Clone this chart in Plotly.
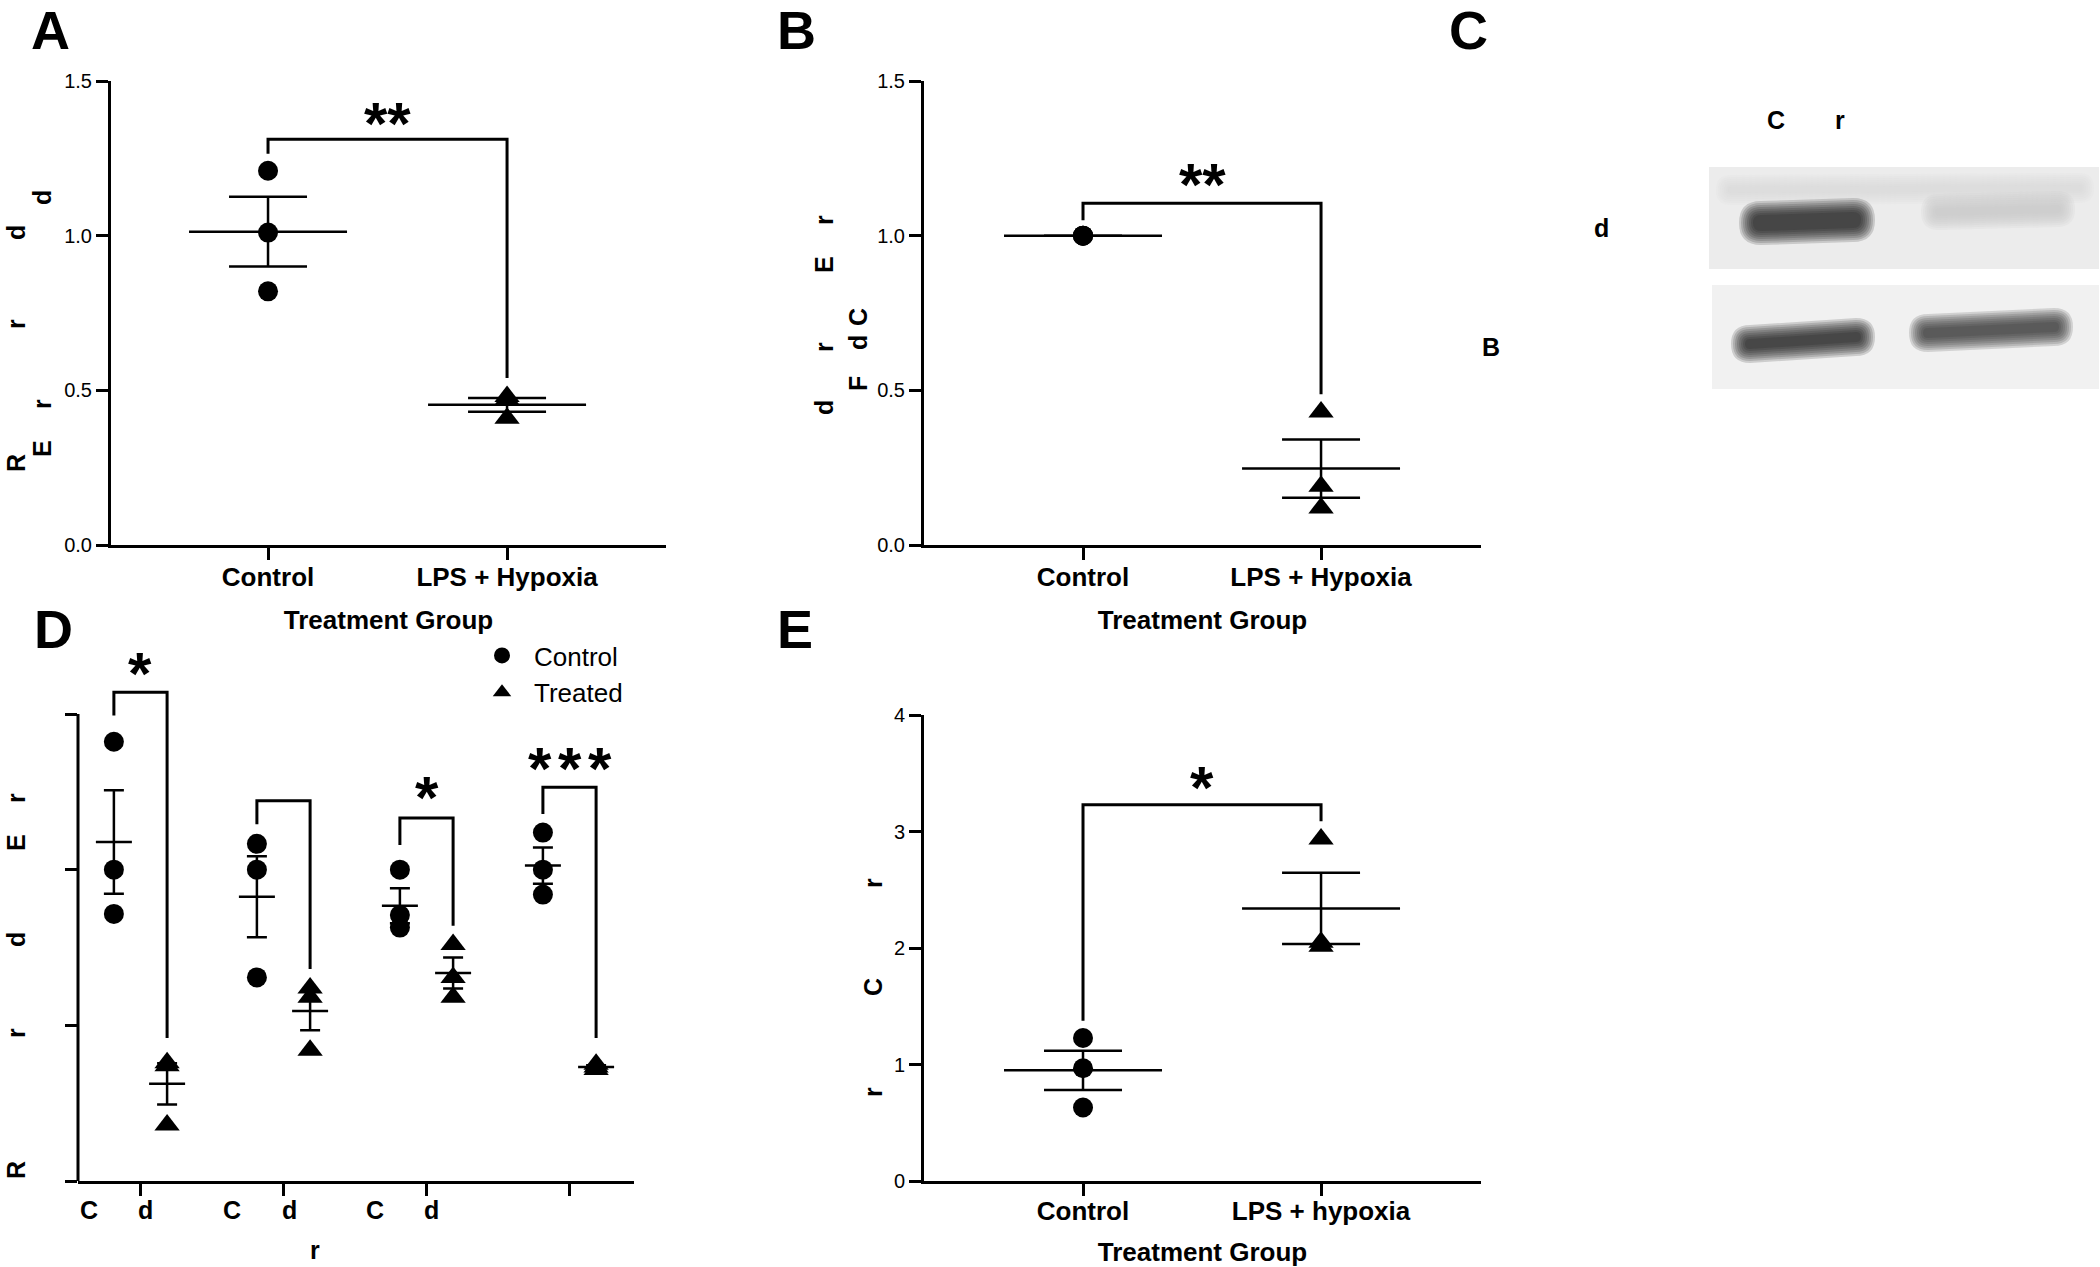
import plotly.graph_objects as go

W, H = 2100, 1267
FONT = "Liberation Sans, Arial, sans-serif"

# ---------------- data ----------------
# Panel A
a_categories = ["Control", "LPS + Hypoxia"]
a_control = [1.21, 1.01, 0.82]
a_treated = [0.48, 0.47, 0.41]
a_mean = [1.013, 0.453]
a_sem = [0.113, 0.022]
a_bracket_y = [1.265, 1.312, 1.312, 0.54]
a_star = "**"
a_star_y = 1.388
a_yticks = [0, 0.5, 1.0, 1.5]
a_yticktext = ["0.0", "0.5", "1.0", "1.5"]

# Panel B
b_categories = ["Control", "LPS + Hypoxia"]
b_control = [1.0, 1.0, 1.0]
b_treated = [0.43, 0.19, 0.12]
b_mean = [1.0, 0.247]
b_sem = [0.0, 0.094]
b_bracket_y = [1.05, 1.105, 1.105, 0.487]
b_star = "**"
b_star_y = 1.19
b_yticks = [0, 0.5, 1.0, 1.5]
b_yticktext = ["0.0", "0.5", "1.0", "1.5"]

# Panel D
d_groups = [0, 1, 2, 3]
d_control = [[1.411, 1.0, 0.858], [1.083, 1.0, 0.654], [1.0, 0.854, 0.814], [1.119, 1.0, 0.92]]
d_treated = [[0.38, 0.37, 0.18], [0.62, 0.59, 0.42], [0.76, 0.654, 0.59], [0.375, 0.366, 0.358]]
d_control_mean = [1.089, 0.913, 0.884, 1.013]
d_control_sem = [0.166, 0.13, 0.056, 0.058]
d_treated_mean = [0.312, 0.546, 0.668, 0.366]
d_treated_sem = [0.066, 0.062, 0.05, 0.006]
d_bracket_left = [1.495, 1.146, 1.079, 1.179]
d_bracket_top = [1.570, 1.221, 1.166, 1.265]
d_bracket_right = [0.459, 0.681, 0.82, 0.459]
d_stars = ["*", "", "*", "***"]
d_star_y = [1.657, None, 1.258, 1.351]
d_yticks = [0, 0.5, 1.0, 1.5]
d_series = ["Control", "Treated"]

# Panel E
e_categories = ["Control", "LPS + hypoxia"]
e_control = [1.227, 0.968, 0.631]
e_treated = [2.936, 2.05, 2.014]
e_mean = [0.95, 2.34]
e_sem = [0.168, 0.305]
e_bracket_y = [1.376, 3.23, 3.23, 3.089]
e_star = "*"
e_star_y = 3.45
e_yticks = [0, 1, 2, 3, 4]
e_yticktext = ["0", "1", "2", "3", "4"]

# ---------------- helpers ----------------
def px(x, y):
    return x / W, 1 - y / H

def xdom(x0, x1):
    return [x0 / W, x1 / W]

def ydom(ytop, ybot):
    return [1 - ybot / H, 1 - ytop / H]

fig = go.Figure()
annotations = []
shapes = []

BLACK = "black"
D_OFF = 0.186          # control / treated offset within a D group
LINE_EW_SCALE = 1.4    # plotly draws 'line-ew' markers 1.4x their size
STAR_SHIFT = -8


def two_group_panel(xa, ya, control, treated, mean, sem, bracket_y, star, star_y):
    fig.add_trace(go.Scatter(
        x=[0, 1], y=mean, mode="markers", xaxis=xa, yaxis=ya, showlegend=False,
        marker=dict(symbol="line-ew", size=158 / LINE_EW_SCALE, color=BLACK,
                    line=dict(width=2.5, color=BLACK)),
        error_y=dict(type="data", array=sem, width=39, thickness=2.5, color=BLACK),
        cliponaxis=False, hoverinfo="skip"))
    fig.add_trace(go.Scatter(
        x=[0, 0, 1, 1], y=bracket_y, mode="lines", xaxis=xa, yaxis=ya, showlegend=False,
        line=dict(color=BLACK, width=3), hoverinfo="skip"))
    fig.add_trace(go.Scatter(
        x=[0] * len(control), y=control, mode="markers", xaxis=xa, yaxis=ya, showlegend=False,
        marker=dict(symbol="circle", size=20, color=BLACK), cliponaxis=False))
    fig.add_trace(go.Scatter(
        x=[1] * len(treated), y=treated, mode="markers", xaxis=xa, yaxis=ya, showlegend=False,
        marker=dict(symbol="triangle-up", size=22, color=BLACK), cliponaxis=False))
    annotations.append(dict(
        x=0.5, y=star_y, xref=xa, yref=ya, text="<b>%s</b>" % star, showarrow=False,
        font=dict(family=FONT, size=60, color=BLACK), yshift=STAR_SHIFT))


two_group_panel("x", "y", a_control, a_treated, a_mean, a_sem, a_bracket_y, a_star, a_star_y)
two_group_panel("x2", "y2", b_control, b_treated, b_mean, b_sem, b_bracket_y, b_star, b_star_y)
two_group_panel("x4", "y4", e_control, e_treated, e_mean, e_sem, e_bracket_y, e_star, e_star_y)

# Panel D
xc = [g - D_OFF for g in d_groups]
xt = [g + D_OFF for g in d_groups]
for xs, m, s in ((xc, d_control_mean, d_control_sem), (xt, d_treated_mean, d_treated_sem)):
    fig.add_trace(go.Scatter(
        x=xs, y=m, mode="markers", xaxis="x3", yaxis="y3", showlegend=False,
        marker=dict(symbol="line-ew", size=36 / LINE_EW_SCALE, color=BLACK,
                    line=dict(width=2.5, color=BLACK)),
        error_y=dict(type="data", array=s, width=10, thickness=2.5, color=BLACK),
        cliponaxis=False, hoverinfo="skip"))
bx, by = [], []
for i, g in enumerate(d_groups):
    bx += [xc[i], xc[i], xt[i], xt[i], None]
    by += [d_bracket_left[i], d_bracket_top[i], d_bracket_top[i], d_bracket_right[i], None]
fig.add_trace(go.Scatter(x=bx, y=by, mode="lines", xaxis="x3", yaxis="y3", showlegend=False,
                         line=dict(color=BLACK, width=3), hoverinfo="skip"))
cx, cy, tx, ty = [], [], [], []
for i, g in enumerate(d_groups):
    cx += [xc[i]] * len(d_control[i]); cy += d_control[i]
    tx += [xt[i]] * len(d_treated[i]); ty += d_treated[i]
fig.add_trace(go.Scatter(x=cx, y=cy, mode="markers", xaxis="x3", yaxis="y3", name=d_series[0],
                         marker=dict(symbol="circle", size=20, color=BLACK), cliponaxis=False))
fig.add_trace(go.Scatter(x=tx, y=ty, mode="markers", xaxis="x3", yaxis="y3", name=d_series[1],
                         marker=dict(symbol="triangle-up", size=22, color=BLACK), cliponaxis=False))
for i, g in enumerate(d_groups):
    st = d_stars[i]
    if not st:
        continue
    n = len(st)
    for k in range(n):
        annotations.append(dict(
            x=(xc[i] + xt[i]) / 2, y=d_star_y[i], xref="x3", yref="y3", text="<b>*</b>",
            showarrow=False, font=dict(family=FONT, size=60, color=BLACK), yshift=STAR_SHIFT,
            xshift=(k - (n - 1) / 2) * 30))

# ---------------- axes ----------------
def axis_common():
    return dict(showline=True, linecolor=BLACK, linewidth=3, ticks="outside", ticklen=12,
                tickwidth=3, tickcolor=BLACK, showgrid=False, zeroline=False, automargin=False)

xcat_font = dict(family=FONT, size=26, color=BLACK, weight="bold")
ytick_font = dict(family=FONT, size=20, color=BLACK)
xtitle = dict(text="Treatment Group", font=dict(family=FONT, size=26, color=BLACK, weight="bold"),
              standoff=20)

A_XR = [-0.657, 1.665]
B_XR = [-0.668, 1.672]

layout_axes = dict(
    xaxis=dict(**axis_common(), domain=xdom(111, 666), range=A_XR, anchor="y",
               tickvals=[0, 1], ticktext=a_categories, tickfont=xcat_font, title=xtitle,
               ticklabelstandoff=-5),
    yaxis=dict(**axis_common(), domain=ydom(81, 545), range=[0, 1.5], anchor="x",
               tickvals=a_yticks, ticktext=a_yticktext, tickfont=ytick_font),
    xaxis2=dict(**axis_common(), domain=xdom(924, 1481), range=B_XR, anchor="y2",
                tickvals=[0, 1], ticktext=b_categories, tickfont=xcat_font, title=xtitle,
                ticklabelstandoff=-5),
    yaxis2=dict(**axis_common(), domain=ydom(81, 545), range=[0, 1.5], anchor="x2",
                tickvals=b_yticks, ticktext=b_yticktext, tickfont=ytick_font),
    xaxis4=dict(**axis_common(), domain=xdom(924, 1481), range=B_XR, anchor="y4",
                tickvals=[0, 1], ticktext=e_categories, tickfont=xcat_font, title=xtitle,
                ticklabelstandoff=-7),
    yaxis4=dict(**axis_common(), domain=ydom(715, 1181), range=[0, 4], anchor="x4",
                tickvals=e_yticks, ticktext=e_yticktext, tickfont=ytick_font),
)
# Panel D: the plotting area is taller than the drawn y axis (brackets rise above it)
D_TOP_AXIS, D_TOP_EXT, D_BOT = 714, 625, 1181
d_ymax = 1.5 * (D_BOT - D_TOP_EXT) / (D_BOT - D_TOP_AXIS)
dx = axis_common(); dx.update(domain=xdom(78, 634), range=[-0.437, 3.451], anchor="y3",
                             tickvals=d_groups, showticklabels=False)
dy = axis_common(); dy.update(domain=ydom(D_TOP_EXT, D_BOT), range=[0, d_ymax], anchor="x3",
                             tickvals=d_yticks, showticklabels=False, showline=False)
layout_axes["xaxis3"] = dx
layout_axes["yaxis3"] = dy
shapes.append(dict(type="line", xref="x3 domain", yref="y3", x0=0, x1=0, y0=0, y1=1.5,
                   line=dict(color=BLACK, width=3)))

# ---------------- text labels ----------------
def text(x, y, s, size=25, bold=True, angle=0, xanchor="center"):
    xp, yp = px(x, y)
    annotations.append(dict(x=xp, y=yp, xref="paper", yref="paper", text=("<b>%s</b>" % s) if bold else s,
                            showarrow=False, textangle=angle, xanchor=xanchor, yanchor="middle",
                            font=dict(family=FONT, size=size, color=BLACK)))

# panel letters
for (lx, ly, s) in [(50, 30, "A"), (796, 30, "B"), (1468, 30, "C"), (53, 629, "D"), (795, 629, "E")]:
    text(lx, ly, s, size=54)

# y-axis titles (only these glyphs are visible in the picture)
for (lx, ly, s) in [(16, 463, "R"), (16, 324, "r"), (16, 233, "d"),
                    (42, 449, "E"), (42, 404, "r"), (42, 198, "d"),
                    (824, 408, "d"), (824, 347, "r"), (824, 265, "E"), (824, 220, "r"),
                    (858, 384, "F"), (858, 343, "d"), (858, 317, "C"),
                    (16, 1170, "R"), (16, 1033, "r"), (16, 940, "d"), (16, 843, "E"), (16, 798, "r"),
                    (873, 883, "r"), (873, 987, "C"), (873, 1092, "r")]:
    text(lx, ly, s, size=25, angle=-90)

# panel D category labels and axis title
for (lx, s) in [(89, "C"), (145, "d"), (232, "C"), (289, "d"), (375, "C"), (431, "d")]:
    text(lx, 1210, s, size=25)
text(315, 1250, "r", size=25)

# panel C labels
text(1776, 120, "C", size=25)
text(1840, 120, "r", size=25)
text(1601, 228, "d", size=25)
text(1491, 347, "B", size=25)

# ---------------- panel C: blot drawing ----------------
def prect(x0, y0, x1, y1, color):
    a, b = px(x0, y0); c, d = px(x1, y1)
    shapes.append(dict(type="rect", xref="paper", yref="paper", x0=a, y0=d, x1=c, y1=b,
                       fillcolor=color, line=dict(width=0), layer="below"))

def pill(xl, ylc, xr, yrc, hh, color, opacity):
    def P(x, y):
        a, b = px(x, y)
        return "%.5f,%.5f" % (a, b)
    path = ("M %s Q %s %s L %s Q %s %s Q %s %s L %s Q %s %s Z" % (
        P(xl, ylc), P(xl, ylc - hh), P(xl + hh, ylc - hh), P(xr - hh, yrc - hh),
        P(xr, yrc - hh), P(xr, yrc), P(xr, yrc + hh), P(xr - hh, yrc + hh),
        P(xl + hh, ylc + hh), P(xl, ylc + hh), P(xl, ylc)))
    shapes.append(dict(type="path", xref="paper", yref="paper", path=path, fillcolor=color,
                       opacity=opacity, line=dict(width=0), layer="below"))

def soft_band(xl, ylc, xr, yrc, hh, color, op=0.16):
    for e in [9, 7, 5, 3, 1, -1, -3, -5]:
        if hh + e <= 1:
            continue
        pill(xl - e, ylc, xr + e, yrc, hh + e, color, op)

prect(1709, 167, 2099, 269, "#ececec")
soft_band(1725, 190, 2085, 188, 6, "#d2d2d2", 0.12)
soft_band(1748, 223, 1866, 220, 13, "#111111")
soft_band(1930, 212, 2066, 209, 9, "#c4c4c4")
prect(1712, 285, 2099, 389, "#f1f1f1")
soft_band(1740, 344, 1866, 337, 10, "#111111")
soft_band(1918, 333, 2064, 327, 10, "#2a2a2a")

fig.update_layout(
    width=W, height=H, autosize=False,
    margin=dict(l=0, r=0, t=0, b=0, pad=0),
    paper_bgcolor="white", plot_bgcolor="rgba(0,0,0,0)",
    font=dict(family=FONT, color=BLACK),
    showlegend=True,
    legend=dict(x=px(470, 0)[0], y=px(0, 632)[1], xanchor="left", yanchor="top",
                font=dict(family=FONT, size=26, color=BLACK), itemwidth=54,
                bgcolor="rgba(0,0,0,0)", borderwidth=0, tracegroupgap=0),
    annotations=annotations,
    shapes=shapes,
    **layout_axes,
)

fig.write_html("out.html", config={"displayModeBar": False},
               post_script="document.body.style.margin='0';")
